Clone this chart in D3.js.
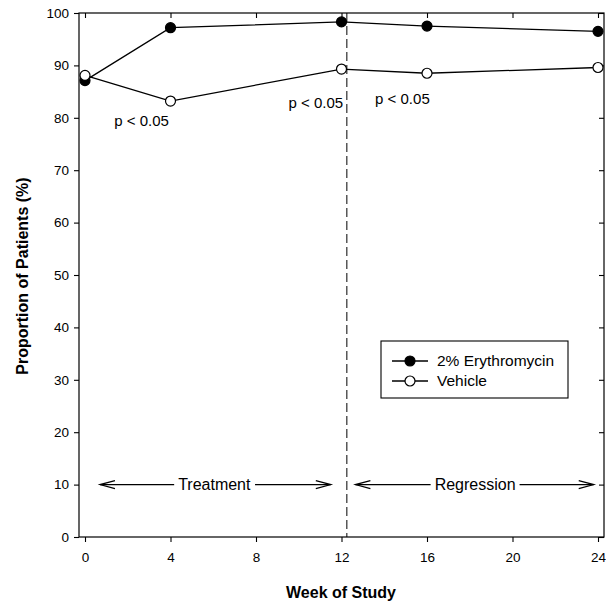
<!DOCTYPE html>
<html><head><meta charset="utf-8">
<script src="https://cdn.jsdelivr.net/npm/d3@7"></script>
<style>body{margin:0;background:#fff}svg{display:block}text{font-family:Arial,"Liberation Sans",sans-serif;fill:#000}</style>
</head><body><svg id="c" width="606" height="603"></svg>
<script>
const weeks = [0, 4, 12, 16, 24];
const erythromycin = [87.1, 97.2, 98.3, 97.5, 96.5];
const vehicle = [88.1, 83.2, 89.3, 88.5, 89.6];
const seriesNames = ["2% Erythromycin", "Vehicle"];
const xTicks = [0, 4, 8, 12, 16, 20, 24];
const yTicks = [0, 10, 20, 30, 40, 50, 60, 70, 80, 90, 100];
const pNotes = [{w: 2.65, v: 79.4, t: "p < 0.05"}, {w: 10.8, v: 82.9, t: "p < 0.05"}, {w: 14.85, v: 83.6, t: "p < 0.05"}];
const phaseSplit = 12.25;
const phases = [{from: 0.7, to: 11.5, label: "Treatment", mid: 6.05}, {from: 12.65, to: 23.8, label: "Regression", mid: 18.25}];

const svg = d3.select("#c");
const x = d3.scaleLinear().domain([0, 24]).range([85, 598]);
const y = d3.scaleLinear().domain([0, 100]).range([537, 13]);
const L = 79, R = 604, T = 13, B = 537;

svg.append("rect").attr("x", L).attr("y", T).attr("width", R - L).attr("height", B - T)
  .attr("fill", "none").attr("stroke", "#000").attr("stroke-width", 1.2);

function styleAxis(g, lbl) {
  g.select(".domain").remove();
  g.selectAll(".tick line").attr("stroke", "#000").attr("stroke-width", 1.1);
  g.selectAll(".tick text").attr("font-size", 13.5).attr("font-family", "Arial, 'Liberation Sans', sans-serif");
  if (!lbl) g.selectAll(".tick text").remove();
}
svg.append("g").attr("transform", `translate(${L},0)`)
  .call(d3.axisLeft(y).tickValues(yTicks).tickSize(5).tickPadding(5)).call(g => styleAxis(g, true));
svg.append("g").attr("transform", `translate(${R},0)`)
  .call(d3.axisRight(y).tickValues(yTicks).tickSize(-5)).call(g => styleAxis(g, false));
svg.append("g").attr("transform", `translate(0,${B})`)
  .call(d3.axisBottom(x).tickValues(xTicks).tickSize(5).tickPadding(10)).call(g => styleAxis(g, true));
svg.append("g").attr("transform", `translate(0,${T})`)
  .call(d3.axisTop(x).tickValues(xTicks).tickSize(-5)).call(g => styleAxis(g, false));

svg.append("line").attr("x1", x(phaseSplit)).attr("x2", x(phaseSplit)).attr("y1", T).attr("y2", B)
  .attr("stroke", "#000").attr("stroke-width", 1).attr("stroke-dasharray", "9,4");

const ay = y(10);
phases.forEach(p => {
  const t = svg.append("text").attr("x", x(p.mid)).attr("y", ay).attr("dy", "0.35em")
    .attr("text-anchor", "middle").attr("font-size", 16).text(p.label);
  const bb = t.node().getBBox();
  const x0 = x(p.from), x1 = x(p.to);
  svg.append("line").attr("x1", x0).attr("x2", bb.x - 4).attr("y1", ay).attr("y2", ay).attr("stroke", "#000").attr("stroke-width", 1.2);
  svg.append("line").attr("x1", bb.x + bb.width + 4).attr("x2", x1).attr("y1", ay).attr("y2", ay).attr("stroke", "#000").attr("stroke-width", 1.2);
  svg.append("path").attr("d", `M${x0 + 15},${ay - 4}L${x0},${ay}L${x0 + 15},${ay + 4}`).attr("fill", "none").attr("stroke", "#000").attr("stroke-width", 1.2);
  svg.append("path").attr("d", `M${x1 - 15},${ay - 4}L${x1},${ay}L${x1 - 15},${ay + 4}`).attr("fill", "none").attr("stroke", "#000").attr("stroke-width", 1.2);
});

const line = d3.line().x((d, i) => x(weeks[i])).y(d => y(d));
[vehicle, erythromycin].forEach(vals => {
  svg.append("path").attr("d", line(vals)).attr("fill", "none").attr("stroke", "#000").attr("stroke-width", 1.3);
});
[[erythromycin, "#000"], [vehicle, "#fff"]].forEach(([vals, fill]) => {
  svg.append("g").selectAll("circle").data(vals).join("circle")
    .attr("cx", (d, i) => x(weeks[i])).attr("cy", d => y(d)).attr("r", 5)
    .attr("fill", fill).attr("stroke", "#000").attr("stroke-width", 1.2);
});

pNotes.forEach(n => {
  svg.append("text").attr("x", x(n.w)).attr("y", y(n.v)).attr("dy", "0.35em")
    .attr("text-anchor", "middle").attr("font-size", 15).text(n.t);
});

const lg = svg.append("g");
lg.append("rect").attr("x", 381).attr("y", 341).attr("width", 187).attr("height", 57)
  .attr("fill", "#fff").attr("stroke", "#000").attr("stroke-width", 1.1);
seriesNames.forEach((name, i) => {
  const ly = 361 + i * 20;
  lg.append("line").attr("x1", 392).attr("x2", 428).attr("y1", ly).attr("y2", ly).attr("stroke", "#000").attr("stroke-width", 1.3);
  lg.append("circle").attr("cx", 410).attr("cy", ly).attr("r", 5).attr("fill", i === 0 ? "#000" : "#fff").attr("stroke", "#000").attr("stroke-width", 1.2);
  lg.append("text").attr("x", 437).attr("y", ly).attr("dy", "0.35em").attr("font-size", 15.5).text(name);
});

svg.append("text").attr("x", 341).attr("y", 592).attr("dy", "0.35em").attr("text-anchor", "middle")
  .attr("font-size", 16).attr("font-weight", "bold").text("Week of Study");
svg.append("text").attr("transform", "translate(22,276) rotate(-90)").attr("dy", "0.35em").attr("text-anchor", "middle")
  .attr("font-size", 16).attr("font-weight", "bold").text("Proportion of Patients (%)");
</script></body></html>
